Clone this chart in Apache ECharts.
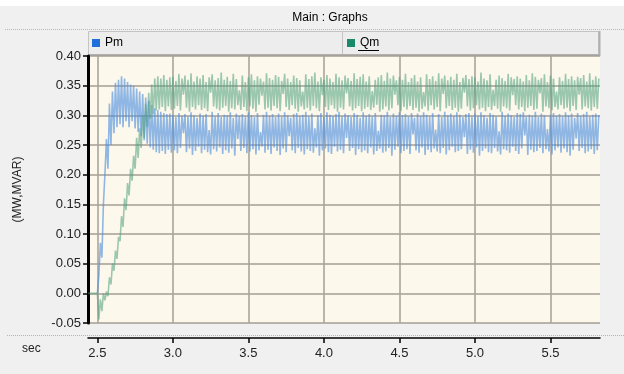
<!DOCTYPE html>
<html>
<head>
<meta charset="utf-8">
<script src="https://cdn.jsdelivr.net/npm/echarts@6/dist/echarts.min.js"></script>
<style>
html,body{margin:0;padding:0;background:#f0f0f0;}
#chart{width:624px;height:374px;}
</style>
</head>
<body>
<div id="chart"></div>
<script>
// ---- data ----
const titleText = 'Main : Graphs';
const seriesNames = ['Pm', 'Qm'];
const xUnit = 'sec';
const yName = '(MW,MVAR)';
const xTickValues = [2.5, 3.0, 3.5, 4.0, 4.5, 5.0, 5.5];
const xMin = 2.438, xMax = 5.828;
const yMin = -0.05, yMax = 0.40, yStep = 0.05;
// sample times: start + i*dt
const pmT0 = 2.50, qmT0 = 2.44, dt = 0.01;

// Pm, 2.50 .. 2.99
const pmStart = [
  0.00, 0.03, 0.085, 0.06, 0.15, 0.20, 0.26, 0.21, 0.32, 0.25,
  0.34, 0.27, 0.355, 0.28, 0.36, 0.285, 0.366, 0.28, 0.362, 0.29,
  0.356, 0.28, 0.352, 0.29, 0.35, 0.278, 0.345, 0.272, 0.34, 0.265,
  0.336, 0.258, 0.33, 0.252, 0.324, 0.246, 0.318, 0.242, 0.312, 0.238,
  0.309, 0.236, 0.306, 0.24, 0.304, 0.235, 0.302, 0.242, 0.303, 0.237
];
// Pm, 3.00 .. 5.82
const pmSteady = [
  0.301, 0.241, 0.297, 0.236, 0.304, 0.245, 0.299, 0.27, 0.302, 0.238,
  0.298, 0.244, 0.305, 0.233, 0.3, 0.24, 0.296, 0.247, 0.303, 0.236,
  0.299, 0.242, 0.302, 0.238, 0.275, 0.234, 0.306, 0.243, 0.298, 0.239,
  0.304, 0.246, 0.297, 0.235, 0.301, 0.241, 0.3, 0.237, 0.305, 0.244,
  0.296, 0.232, 0.303, 0.26, 0.299, 0.24, 0.302, 0.245, 0.298, 0.236,
  0.305, 0.239, 0.3, 0.243, 0.297, 0.234, 0.304, 0.241, 0.272, 0.247,
  0.301, 0.237, 0.306, 0.242, 0.299, 0.235, 0.302, 0.246, 0.297, 0.24,
  0.303, 0.233, 0.298, 0.244, 0.305, 0.238, 0.3, 0.265, 0.296, 0.241,
  0.302, 0.236, 0.304, 0.245, 0.299, 0.239, 0.301, 0.234, 0.306, 0.243,
  0.298, 0.24, 0.303, 0.237, 0.278, 0.246, 0.3, 0.232, 0.304, 0.241,
  0.297, 0.244, 0.305, 0.238, 0.301, 0.235, 0.299, 0.247, 0.302, 0.239,
  0.306, 0.242, 0.298, 0.236, 0.303, 0.262, 0.3, 0.24, 0.297, 0.245,
  0.304, 0.233, 0.301, 0.243, 0.296, 0.238, 0.305, 0.241, 0.299, 0.236,
  0.302, 0.246, 0.298, 0.234, 0.304, 0.24, 0.274, 0.244, 0.301, 0.237,
  0.3, 0.239, 0.306, 0.245, 0.297, 0.232, 0.303, 0.242, 0.299, 0.247,
  0.305, 0.236, 0.3, 0.24, 0.302, 0.243, 0.298, 0.235, 0.304, 0.268,
  0.296, 0.241, 0.303, 0.237, 0.299, 0.246, 0.305, 0.233, 0.301, 0.242,
  0.298, 0.238, 0.304, 0.244, 0.276, 0.239, 0.302, 0.236, 0.297, 0.245,
  0.306, 0.234, 0.3, 0.241, 0.303, 0.247, 0.299, 0.238, 0.305, 0.24,
  0.301, 0.243, 0.297, 0.263, 0.302, 0.235, 0.304, 0.242, 0.298, 0.237,
  0.303, 0.246, 0.299, 0.232, 0.305, 0.24, 0.3, 0.244, 0.296, 0.238,
  0.304, 0.236, 0.301, 0.245, 0.298, 0.239, 0.273, 0.234, 0.306, 0.243,
  0.299, 0.241, 0.303, 0.237, 0.3, 0.247, 0.297, 0.24, 0.304, 0.235,
  0.302, 0.244, 0.305, 0.266, 0.298, 0.233, 0.301, 0.242, 0.299, 0.238,
  0.306, 0.24, 0.297, 0.245, 0.303, 0.236, 0.3, 0.243, 0.277, 0.239,
  0.301, 0.234, 0.304, 0.241, 0.299, 0.246, 0.302, 0.237, 0.298, 0.244,
  0.305, 0.238, 0.3, 0.232, 0.303, 0.242, 0.296, 0.261, 0.304, 0.24,
  0.299, 0.245, 0.302, 0.236, 0.306, 0.239, 0.298, 0.243, 0.301, 0.235,
  0.303, 0.241, 0.3
];
// Qm, 2.44 .. 2.99
const qmStart = [
  0, 0, 0, 0, 0, 0,
  0.00, -0.044, -0.01, -0.03, 0.0, -0.012, 0.003, -0.005, 0.027, 0.015,
  0.05, 0.038, 0.072, 0.058, 0.095, 0.088, 0.13, 0.112, 0.16, 0.14,
  0.186, 0.165, 0.21, 0.19, 0.232, 0.21, 0.262, 0.228, 0.278, 0.245,
  0.3, 0.262, 0.32, 0.28, 0.338, 0.294, 0.352, 0.302, 0.362, 0.308,
  0.366, 0.31, 0.362, 0.314, 0.368, 0.307, 0.36, 0.315, 0.364, 0.309
];
// Qm, 3.00 .. 5.82
const qmSteady = [
  0.365, 0.311, 0.358, 0.316, 0.37, 0.308, 0.362, 0.335, 0.367, 0.313,
  0.36, 0.306, 0.371, 0.314, 0.357, 0.31, 0.366, 0.317, 0.362, 0.309,
  0.368, 0.312, 0.356, 0.307, 0.364, 0.338, 0.369, 0.315, 0.359, 0.311,
  0.363, 0.308, 0.372, 0.313, 0.36, 0.316, 0.365, 0.306, 0.358, 0.312,
  0.37, 0.31, 0.361, 0.317, 0.342, 0.309, 0.367, 0.314, 0.356, 0.307,
  0.364, 0.315, 0.369, 0.311, 0.359, 0.306, 0.366, 0.318, 0.362, 0.333,
  0.357, 0.31, 0.371, 0.313, 0.363, 0.308, 0.36, 0.316, 0.368, 0.312,
  0.365, 0.307, 0.358, 0.336, 0.37, 0.314, 0.362, 0.309, 0.356, 0.317,
  0.367, 0.311, 0.363, 0.306, 0.359, 0.315, 0.34, 0.31, 0.369, 0.313,
  0.361, 0.308, 0.366, 0.316, 0.372, 0.312, 0.357, 0.307, 0.364, 0.334,
  0.36, 0.314, 0.368, 0.309, 0.362, 0.317, 0.356, 0.311, 0.37, 0.306,
  0.364, 0.313, 0.359, 0.31, 0.367, 0.337, 0.363, 0.315, 0.358, 0.308,
  0.371, 0.312, 0.361, 0.316, 0.365, 0.307, 0.369, 0.311, 0.357, 0.314,
  0.366, 0.309, 0.341, 0.313, 0.36, 0.318, 0.364, 0.306, 0.368, 0.31,
  0.358, 0.315, 0.372, 0.308, 0.362, 0.312, 0.367, 0.335, 0.359, 0.317,
  0.365, 0.307, 0.36, 0.314, 0.37, 0.31, 0.356, 0.316, 0.363, 0.309,
  0.368, 0.313, 0.357, 0.306, 0.364, 0.311, 0.339, 0.315, 0.369, 0.308,
  0.361, 0.317, 0.366, 0.31, 0.358, 0.314, 0.371, 0.307, 0.362, 0.336,
  0.367, 0.312, 0.359, 0.316, 0.365, 0.309, 0.36, 0.313, 0.37, 0.306,
  0.356, 0.311, 0.363, 0.338, 0.368, 0.315, 0.361, 0.308, 0.366, 0.312,
  0.364, 0.317, 0.357, 0.31, 0.372, 0.313, 0.362, 0.307, 0.359, 0.314,
  0.369, 0.309, 0.343, 0.316, 0.36, 0.311, 0.367, 0.306, 0.363, 0.315,
  0.358, 0.312, 0.37, 0.308, 0.364, 0.334, 0.361, 0.317, 0.366, 0.31,
  0.362, 0.314, 0.357, 0.307, 0.368, 0.313, 0.359, 0.316, 0.371, 0.309,
  0.365, 0.311, 0.36, 0.337, 0.363, 0.306, 0.369, 0.315, 0.356, 0.312,
  0.367, 0.308, 0.362, 0.314, 0.34, 0.31, 0.364, 0.317, 0.358, 0.311,
  0.37, 0.313, 0.361, 0.307, 0.366, 0.316, 0.359, 0.309, 0.365, 0.335,
  0.363, 0.31, 0.368, 0.315, 0.357, 0.312, 0.371, 0.308, 0.36, 0.314,
  0.366, 0.311, 0.362
];

// ---- build ----
function toPairs(vals, start) {
  return vals.map((v, i) => [Math.round((start + i * dt) * 100) / 100, v]);
}
const pmData = toPairs(pmStart.concat(pmSteady), pmT0);
const qmData = toPairs(qmStart.concat(qmSteady), qmT0);

const FONT = 'Liberation Sans, Arial, sans-serif';
const chart = echarts.init(document.getElementById('chart'), null, {renderer: 'canvas'});
const legendCommon = {
  orient: 'horizontal', icon: 'rect', itemWidth: 8, itemHeight: 8, padding: 0,
  selectedMode: false, textStyle: {fontFamily: FONT, fontSize: 12, color: '#000'}
};
chart.setOption({
  animation: false,
  backgroundColor: '#f0f0f0',
  color: ['#1e6fd9', '#1b8a6b'],
  title: {
    text: titleText, left: 330, top: 12, textAlign: 'center', padding: 0,
    textStyle: {fontFamily: FONT, fontSize: 12, fontWeight: 'normal', color: '#000'}
  },
  legend: [
    Object.assign({data: [seriesNames[0]], left: 92, top: 37}, legendCommon),
    Object.assign({data: [seriesNames[1]], left: 347, top: 37}, legendCommon)
  ],
  graphic: [
    {type: 'rect', shape: {x: 0, y: 0, width: 624, height: 6}, style: {fill: '#ffffff'}, z: -10, silent: true},
    {type: 'line', shape: {x1: 5, y1: 29.5, x2: 624, y2: 29.5}, style: {stroke: '#b8b8b8', lineWidth: 1, lineDash: [1, 1]}, silent: true},
    {type: 'rect', shape: {x: 88.5, y: 31.5, width: 254, height: 23}, style: {fill: '#ededed', stroke: '#c4c4c4', lineWidth: 1}, z: -1, silent: true},
    {type: 'rect', shape: {x: 342.5, y: 31.5, width: 256, height: 23}, style: {fill: '#ededed', stroke: '#c4c4c4', lineWidth: 1}, z: -1, silent: true},
    {type: 'line', shape: {x1: 88, y1: 55, x2: 600, y2: 55}, style: {stroke: '#b0b0b0', lineWidth: 2}, silent: true},
    {type: 'line', shape: {x1: 599.5, y1: 31, x2: 599.5, y2: 56}, style: {stroke: '#b0b0b0', lineWidth: 2}, silent: true},
    {type: 'line', shape: {x1: 358, y1: 50.5, x2: 379, y2: 50.5}, style: {stroke: '#000', lineWidth: 1}, silent: true},
    {type: 'line', shape: {x1: 7, y1: 335.5, x2: 624, y2: 335.5}, style: {stroke: '#b4b4b4', lineWidth: 1, lineDash: [1, 1]}, silent: true},
    {type: 'text', left: 22, top: 343, style: {text: xUnit, fontFamily: FONT, fontSize: 12, fill: '#222'}, silent: true}
  ],
  grid: {
    left: 88, right: 24, top: 56, bottom: 51, show: true,
    backgroundColor: '#fdf8ec', borderWidth: 0
  },
  xAxis: {
    type: 'value', min: xMin, max: xMax, position: 'bottom', offset: 15,
    axisLine: {show: true, onZero: false, lineStyle: {color: '#000', width: 1.5}},
    axisTick: {show: true, customValues: xTickValues, length: 5, lineStyle: {color: '#000', width: 1.5}},
    axisLabel: {customValues: xTickValues, fontFamily: FONT, fontSize: 13, color: '#222', margin: 9,
      formatter: v => v.toFixed(1)},
    splitLine: {show: true, lineStyle: {color: '#aaa59c', width: 1.6}}
  },
  yAxis: {
    type: 'value', min: yMin, max: yMax, interval: yStep,
    name: yName, nameLocation: 'middle', nameGap: 64, nameRotate: 90,
    nameTextStyle: {fontFamily: FONT, fontSize: 12, color: '#222'},
    axisLine: {show: true, lineStyle: {color: '#000', width: 3}},
    axisTick: {show: true, length: 5, lineStyle: {color: '#000', width: 1.5}},
    axisLabel: {fontFamily: FONT, fontSize: 13, color: '#222', margin: 7,
      formatter: v => v.toFixed(2)},
    splitLine: {show: true, lineStyle: {color: '#a39e95', width: 1.6}}
  },
  series: [
    {name: seriesNames[0], type: 'line', data: pmData, showSymbol: false, z: 2,
      itemStyle: {color: '#1e6fd9'},
      lineStyle: {color: 'rgba(78,142,222,0.62)', width: 1.6}},
    {name: seriesNames[1], type: 'line', data: qmData, showSymbol: false, z: 3,
      itemStyle: {color: '#1b8a6b'},
      lineStyle: {color: 'rgba(76,158,126,0.55)', width: 1.6}}
  ]
});
</script>
</body>
</html>
